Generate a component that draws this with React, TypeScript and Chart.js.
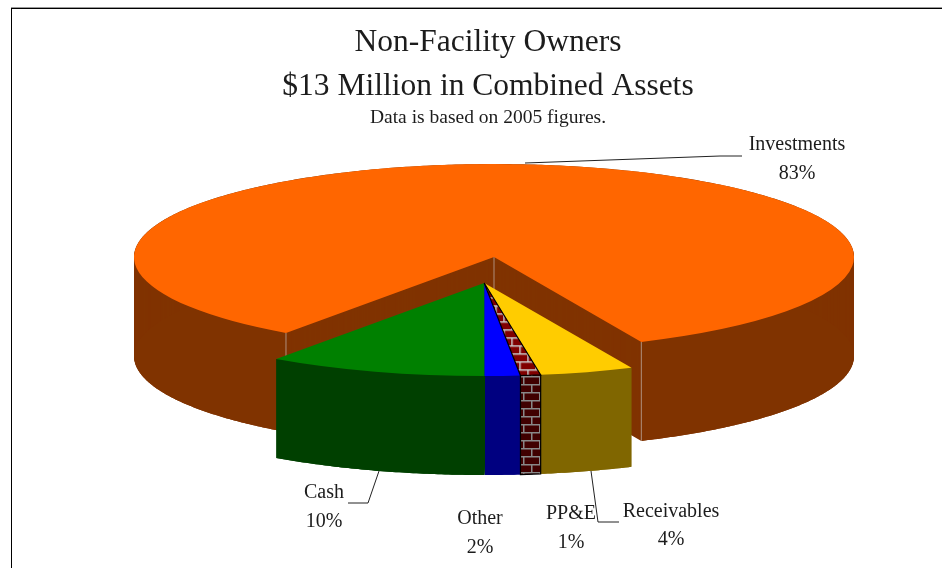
import React, { useEffect, useRef } from "react";
import { Chart, registerables } from "chart.js";

Chart.register(...registerables);

const categories = ["Investments", "Receivables", "PP&E", "Other", "Cash"];
const shares = [83.4, 4.2, 0.9, 1.6, 9.8];
const titleLines = ["Non-Facility Owners", "$13 Million in Combined Assets"];
const subtitleText = "Data is based on 2005 figures.";

const topColors = ["#FF6600", "#FFCC00", "#800000", "#0000FF", "#008000"];
const sideColors = ["#803300", "#806600", "#400000", "#000080", "#004000"];

const RADIUS = 360;
const RADIUS_Y = 93;
const DEPTH = 99;
const CENTER_X = 484.2;
const CENTER_Y = 283;
const EXPLODE = 101;
const ROTATION = 215.3;
const FONT = '"Liberation Serif", serif';
const TEXT = "#1c1c1c";

const labelLayout: Record<string, { x: number; y1: number; y2: number; leader?: number[][] }> = {
  Investments: { x: 797, y1: 145, y2: 174, leader: [[525, 163], [720, 156], [742, 156]] },
  Receivables: { x: 671, y1: 512, y2: 540, leader: [[591, 471], [598, 522], [619, 522]] },
  "PP&E": { x: 571, y1: 514, y2: 543 },
  Other: { x: 480, y1: 519, y2: 548 },
  Cash: { x: 324, y1: 493, y2: 522, leader: [[379, 471], [368, 503], [348, 503]] },
};

function brickPattern(brick: string, mortar: string) {
  const c = document.createElement("canvas");
  c.width = 16;
  c.height = 16;
  const g = c.getContext("2d")!;
  g.fillStyle = brick;
  g.fillRect(0, 0, 16, 16);
  g.fillStyle = mortar;
  g.fillRect(0, 0, 16, 1.5);
  g.fillRect(0, 8, 16, 1.5);
  g.fillRect(3, 0, 1.5, 8);
  g.fillRect(11, 8, 1.5, 8);
  return g.createPattern(c, "repeat")!;
}

function arcSpan(el: any) {
  return { start: el.$start ?? el.startAngle, end: el.$end ?? el.endAngle };
}

function geometry(el: any) {
  const off = (el.options.offset || 0) / 4;
  const { start, end } = arcSpan(el);
  const mid = (start + end) / 2;
  const ratio = RADIUS_Y / RADIUS;
  const cx = CENTER_X + Math.cos(mid) * off;
  const cy = CENTER_Y + Math.sin(mid) * off * ratio;
  const at = (a: number) => [cx + Math.cos(a) * RADIUS, cy + Math.sin(a) * RADIUS_Y];
  return { cx, cy, at, start, end };
}

function wedge(ctx: CanvasRenderingContext2D, el: any, dy: number) {
  const { cx, cy, at, start, end } = geometry(el);
  const n = Math.max(2, Math.ceil((end - start) / 0.01));
  ctx.beginPath();
  ctx.moveTo(cx, cy + dy);
  for (let i = 0; i <= n; i++) {
    const p = at(start + ((end - start) * i) / n);
    ctx.lineTo(p[0], p[1] + dy);
  }
  ctx.closePath();
}

function outerWall(ctx: CanvasRenderingContext2D, el: any) {
  const { at, start, end } = geometry(el);
  const n = Math.max(2, Math.ceil((end - start) / 0.01));
  ctx.beginPath();
  for (let i = 0; i <= n; i++) {
    const p = at(start + ((end - start) * i) / n);
    if (i) ctx.lineTo(p[0], p[1]);
    else ctx.moveTo(p[0], p[1]);
  }
  for (let i = n; i >= 0; i--) {
    const p = at(start + ((end - start) * i) / n);
    ctx.lineTo(p[0], p[1] + DEPTH);
  }
  ctx.closePath();
}

function seam(ctx: CanvasRenderingContext2D, p: number[]) {
  ctx.beginPath();
  ctx.moveTo(p[0], p[1]);
  ctx.lineTo(p[0], p[1] + DEPTH);
  ctx.stroke();
}

function makePie3d(sides: any[]) {
  return {
    id: "pie3d",
    beforeDraw(chart: any) {
      const ctx = chart.ctx;
      ctx.save();
      ctx.fillStyle = "#fff";
      ctx.fillRect(0, 0, chart.width, chart.height);
      ctx.fillStyle = "#999";
      ctx.fillRect(11, 7, chart.width - 11, 1);
      ctx.fillStyle = "#000";
      ctx.fillRect(11, 8, chart.width - 11, 1);
      ctx.fillRect(11, 8, 1, chart.height - 8);
      ctx.restore();
    },
    afterDatasetsUpdate(chart: any) {
      const arcs = chart.getDatasetMeta(0).data;
      arcs.forEach((el: any) => {
        const off = el.options.offset ? el.options.offset / 4 : 0;
        if (off) {
          // the arc element shortens an offset slice; give back what it takes
          const delta = off / Math.PI / RADIUS / 2;
          el.$start = el.startAngle;
          el.$end = el.endAngle;
          el.startAngle -= delta;
          el.endAngle += delta;
          el.outerRadius = RADIUS - off;
        }
      });
    },
    beforeDatasetsDraw(chart: any) {
      const ctx = chart.ctx;
      const arcs = chart.getDatasetMeta(0).data;
      ctx.save();
      arcs.forEach((el: any, i: number) => {
        ctx.fillStyle = sides[i];
        for (let d = DEPTH; d > 0; d--) {
          wedge(ctx, el, d);
          ctx.fill();
        }
        outerWall(ctx, el);
        ctx.fill();
        const { cx, cy, at, start, end } = geometry(el);
        ctx.strokeStyle = "rgba(205,205,205,0.6)";
        ctx.lineWidth = 1;
        if (el.options.offset) {
          seam(ctx, [cx, cy]);
          seam(ctx, at(start));
          seam(ctx, at(end));
        } else if (categories[i] === "Other") {
          seam(ctx, at(end));
        }
      });
      ctx.restore();
      const first = arcs[0];
      ctx.save();
      ctx.translate(CENTER_X, CENTER_Y);
      ctx.scale(1, RADIUS_Y / RADIUS);
      ctx.translate(-first.x, -first.y);
    },
    afterDatasetsDraw(chart: any) {
      const ctx = chart.ctx;
      ctx.restore();
      const arcs = chart.getDatasetMeta(0).data;
      const total = shares.reduce((a, b) => a + b, 0);
      const ppe = arcs[categories.indexOf("PP&E")];
      const { at, start, end } = geometry(ppe);
      const a = at(start);
      const b = at(end);
      ctx.save();
      ctx.strokeStyle = "#000";
      ctx.lineWidth = 1.2;
      wedge(ctx, ppe, 0);
      ctx.stroke();
      ctx.beginPath();
      ctx.moveTo(a[0], a[1]);
      ctx.lineTo(a[0], a[1] + DEPTH);
      ctx.lineTo(b[0], b[1] + DEPTH);
      ctx.lineTo(b[0], b[1]);
      ctx.stroke();
      ctx.fillStyle = TEXT;
      ctx.font = `20px ${FONT}`;
      ctx.textAlign = "center";
      ctx.textBaseline = "middle";
      categories.forEach((name, i) => {
        const l = labelLayout[name];
        ctx.fillText(name, l.x, l.y1);
        ctx.fillText(`${Math.round((shares[i] / total) * 100)}%`, l.x, l.y2);
        if (l.leader) {
          ctx.strokeStyle = "#222";
          ctx.lineWidth = 1;
          ctx.beginPath();
          l.leader.forEach((p, k) => (k ? ctx.lineTo(p[0], p[1]) : ctx.moveTo(p[0], p[1])));
          ctx.stroke();
        }
      });
      ctx.restore();
    },
  };
}

export default function App() {
  const ref = useRef<HTMLCanvasElement>(null);
  useEffect(() => {
    const brickTop = brickPattern("#800000", "#C8C8C8");
    const ratio = RADIUS_Y / RADIUS;
    brickTop.setTransform(new DOMMatrix().scale(1, 1 / ratio));
    const brickSide = brickPattern("#400000", "#888888");
    const tops: any[] = topColors.slice();
    const sides: any[] = sideColors.slice();
    const idx = categories.indexOf("PP&E");
    tops[idx] = brickTop;
    sides[idx] = brickSide;
    const chart: any = new Chart(ref.current!, {
      type: "pie",
      data: {
        labels: categories,
        datasets: [
          {
            data: shares,
            backgroundColor: tops,
            borderWidth: 0,
            offset: categories.map((c) => (c === "Investments" ? EXPLODE * 4 : 0)),
            clip: false,
          } as any,
        ],
      },
      options: {
        animation: false,
        responsive: false,
        radius: RADIUS,
        rotation: ROTATION,
        layout: { padding: { left: 34, top: 21 } },
        events: [],
        plugins: {
          legend: { display: false },
          tooltip: { enabled: false },
          title: {
            display: true,
            text: titleLines,
            color: TEXT,
            padding: 0,
            font: { family: FONT, size: 31.5, weight: "normal", lineHeight: 44 / 31.5 },
          },
          subtitle: {
            display: true,
            text: subtitleText,
            color: TEXT,
            padding: 0,
            font: { family: FONT, size: 19.5, weight: "normal", lineHeight: 18 / 19.5 },
          },
        },
      } as any,
      plugins: [makePie3d(sides)],
    });
    return () => chart.destroy();
  }, []);
  return (
    <canvas
      ref={ref}
      width={942}
      height={568}
      style={{ position: "absolute", left: 0, top: 0, display: "block", width: 942, height: 568 }}
    />
  );
}
